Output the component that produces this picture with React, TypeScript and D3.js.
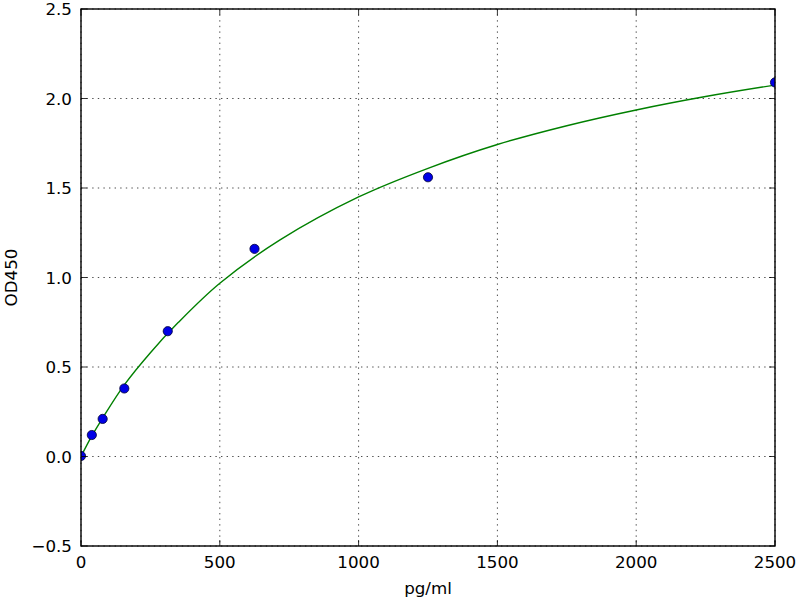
import React from "react";
import * as d3 from "d3";

// Standard points (concentration pg/ml, OD450)
const concentrations = [0, 39, 78, 156, 312.5, 625, 1250, 2500];
const odValues = [0.003, 0.12, 0.21, 0.38, 0.7, 1.16, 1.56, 2.09];

// Fitted curve
const curveX = [0, 39, 78, 156, 250, 350, 500, 717, 1000, 1250, 1500, 1750, 2000, 2250, 2500];
const curveY = [0.0, 0.115, 0.215, 0.4, 0.58, 0.748, 0.968, 1.21, 1.45, 1.61, 1.743, 1.848, 1.936, 2.011, 2.075];

const xTicks = [0, 500, 1000, 1500, 2000, 2500];
const yTicks = [-0.5, 0, 0.5, 1.0, 1.5, 2.0, 2.5];

const xLabel = "pg/ml";
const yLabel = "OD450";

export default function App() {
  const W = 800, H = 600;
  const left = 81, right = 775, top = 9, bottom = 546;
  const x = d3.scaleLinear().domain([0, 2500]).range([left, right]);
  const y = d3.scaleLinear().domain([-0.5, 2.5]).range([bottom, top]);
  const font = "'DejaVu Sans', sans-serif";
  const fs = 16.7;
  const tickLen = 6;

  const line = d3
    .line<number>()
    .x((_, i) => x(curveX[i]))
    .y((d) => y(d))
    .curve(d3.curveCatmullRom.alpha(0.5));

  const fmtY = (v: number) => {
    const s = v.toFixed(1);
    return s.replace("-", "\u2212");
  };

  return (
    <svg
      width={W}
      height={H}
      style={{ position: "absolute", left: 0, top: 0, background: "#fff" }}
      fontFamily={font}
    >
      <rect x={0} y={0} width={W} height={H} fill="#fff" />
      <defs>
        <clipPath id="plotClip">
          <rect x={left} y={top} width={right - left} height={bottom - top} />
        </clipPath>
      </defs>
      {/* grid */}
      <g stroke="#000" strokeWidth={0.7} strokeDasharray="1.4,4.2" fill="none">
        {xTicks.map((t) => (
          <line key={"gx" + t} x1={x(t)} x2={x(t)} y1={top} y2={bottom} />
        ))}
        {yTicks.map((t) => (
          <line key={"gy" + t} x1={left} x2={right} y1={y(t)} y2={y(t)} />
        ))}
      </g>
      <g clipPath="url(#plotClip)">
        <path d={line(curveY) || ""} fill="none" stroke="#008000" strokeWidth={1.4} />
        {concentrations.map((c, i) => (
          <circle
            key={"p" + i}
            cx={x(c)}
            cy={y(odValues[i])}
            r={4.6}
            fill="#0000e6"
            stroke="#000033"
            strokeWidth={0.8}
          />
        ))}
      </g>
      {/* ticks */}
      <g stroke="#000" strokeWidth={0.8}>
        {xTicks.map((t) => (
          <g key={"tx" + t}>
            <line x1={x(t)} x2={x(t)} y1={bottom} y2={bottom - tickLen} />
            <line x1={x(t)} x2={x(t)} y1={top} y2={top + tickLen} />
          </g>
        ))}
        {yTicks.map((t) => (
          <g key={"ty" + t}>
            <line x1={left} x2={left + tickLen} y1={y(t)} y2={y(t)} />
            <line x1={right} x2={right - tickLen} y1={y(t)} y2={y(t)} />
          </g>
        ))}
      </g>
      {/* frame */}
      <rect
        x={left}
        y={top}
        width={right - left}
        height={bottom - top}
        fill="none"
        stroke="#000"
        strokeWidth={1.4}
      />
      {/* tick labels */}
      <g fontSize={fs} fill="#000">
        {xTicks.map((t) => (
          <text key={"lx" + t} x={x(t)} y={568} textAnchor="middle">
            {String(t)}
          </text>
        ))}
        {yTicks.map((t) => (
          <text key={"ly" + t} x={72} y={y(t) + 6.1} textAnchor="end">
            {fmtY(t)}
          </text>
        ))}
      </g>
      <text x={(left + right) / 2} y={594} textAnchor="middle" fontSize={fs} fill="#000">
        {xLabel}
      </text>
      <text
        transform={`translate(16.5, ${(top + bottom) / 2}) rotate(-90)`}
        textAnchor="middle"
        fontSize={fs}
        fill="#000"
      >
        {yLabel}
      </text>
    </svg>
  );
}
